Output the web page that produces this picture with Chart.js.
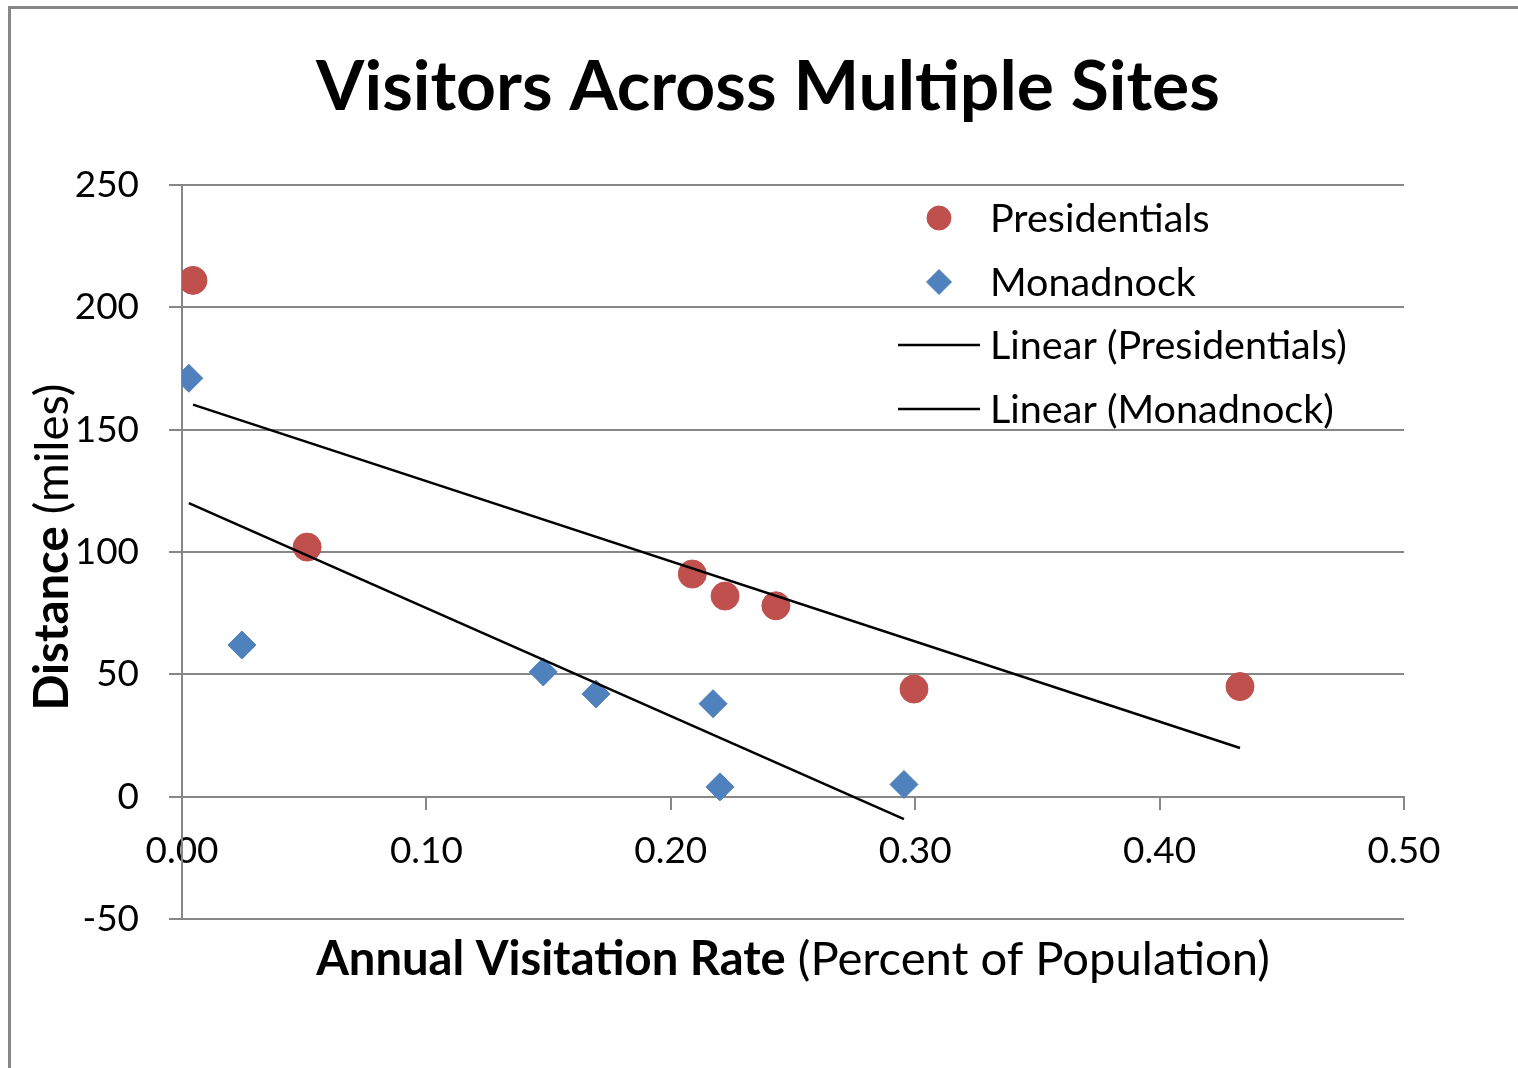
<!DOCTYPE html>
<html>
<head>
<meta charset="utf-8">
<title>Visitors Across Multiple Sites</title>
<script src="https://cdn.jsdelivr.net/npm/chart.js@4/dist/chart.umd.min.js"></script>
<style>
  html, body { margin: 0; padding: 0; background: #ffffff; }
  canvas { display: block; }
</style>
</head>
<body>
<canvas id="chart" width="1518" height="1068" style="width:1518px;height:1068px"></canvas>
<script>
// ---- chart data ----
const chartTitle = 'Visitors Across Multiple Sites';
const xTitleBold = 'Annual Visitation Rate';
const xTitleRest = ' (Percent of Population)';
const yTitleBold = 'Distance';
const yTitleRest = ' (miles)';
const seriesNames = ['Presidentials', 'Monadnock'];
const trendNames = ['Linear (Presidentials)', 'Linear (Monadnock)'];

// annual visitation rate (percent of population) and distance (miles)
const presidentialsRate  = [0.0045, 0.0512, 0.2088, 0.2222, 0.2430, 0.2995, 0.4329];
const presidentialsMiles = [211, 102, 91, 82, 78, 44, 45];
const monadnockRate      = [0.0028, 0.0245, 0.1478, 0.1694, 0.2173, 0.2201, 0.2954];
const monadnockMiles     = [171, 62, 51, 42, 38, 4, 5];

// axis ticks
const xTickValues = [0.00, 0.10, 0.20, 0.30, 0.40, 0.50];
const yTickValues = [-50, 0, 50, 100, 150, 200, 250];

// ---- styling ----
const FONT = 'Lato, "Open Sans", "DejaVu Sans", sans-serif';
const GRID = '#878787';
const RED = '#C0504D';
const BLUE = '#4F81BD';

const measureCtx = document.createElement('canvas').getContext('2d');
function textWidth(text, weight, size) {
  measureCtx.font = weight + ' ' + size + 'px ' + FONT;
  return measureCtx.measureText(text).width;
}
// font size at which the given runs of text span the wanted width
function sizeForWidth(parts, width) {
  const w = parts.reduce((s, p) => s + textWidth(p[0], p[1], 100), 0);
  return 100 * width / w;
}

const titleSize  = sizeForWidth([[chartTitle, 'bold']], 904);
const tickSize   = sizeForWidth([['0.50', 'normal']], 73);
const legendSize = sizeForWidth([[trendNames[0], 'normal']], 357);
const xTitleSize = sizeForWidth([[xTitleBold, 'bold'], [xTitleRest, 'normal']], 954);
const yTitleSize = sizeForWidth([[yTitleBold, 'bold'], [yTitleRest, 'normal']], 327);

// least-squares line across the x range of a series
function linearTrend(xs, ys) {
  const n = xs.length;
  const mx = xs.reduce((a, b) => a + b, 0) / n;
  const my = ys.reduce((a, b) => a + b, 0) / n;
  let sxy = 0, sxx = 0;
  for (let i = 0; i < n; i++) {
    sxy += (xs[i] - mx) * (ys[i] - my);
    sxx += (xs[i] - mx) * (xs[i] - mx);
  }
  const slope = sxy / sxx;
  const icpt = my - slope * mx;
  const x0 = Math.min(...xs), x1 = Math.max(...xs);
  return [{ x: x0, y: icpt + slope * x0 }, { x: x1, y: icpt + slope * x1 }];
}

function toPoints(xs, ys) { return xs.map((x, i) => ({ x: x, y: ys[i] })); }

// outer frame of the chart object and the chart title
const framePlugin = {
  id: 'frame',
  beforeDraw(chart) {
    const ctx = chart.ctx;
    ctx.save();
    ctx.fillStyle = '#ffffff';
    ctx.fillRect(0, 0, chart.width, chart.height);
    ctx.strokeStyle = GRID;
    ctx.lineWidth = 3;
    ctx.strokeRect(9.5, 7.5, chart.width + 100, chart.height + 100);
    ctx.fillStyle = '#000000';
    ctx.font = 'bold ' + titleSize + 'px ' + FONT;
    ctx.textAlign = 'center';
    ctx.textBaseline = 'middle';
    ctx.fillText(chartTitle, 768, 88);
    ctx.restore();
  }
};

// axis titles with a bold lead-in followed by regular text
function drawMixed(ctx, bold, rest, size, cx, baseline) {
  ctx.font = 'bold ' + size + 'px ' + FONT;
  const wb = ctx.measureText(bold).width;
  ctx.font = 'normal ' + size + 'px ' + FONT;
  const wr = ctx.measureText(rest).width;
  let x = cx - (wb + wr) / 2;
  ctx.textAlign = 'left';
  ctx.textBaseline = 'alphabetic';
  ctx.fillStyle = '#000000';
  ctx.font = 'bold ' + size + 'px ' + FONT;
  ctx.fillText(bold, x, baseline);
  ctx.font = 'normal ' + size + 'px ' + FONT;
  ctx.fillText(rest, x + wb, baseline);
}

const axisTitlePlugin = {
  id: 'axisTitles',
  afterDraw(chart) {
    const ctx = chart.ctx;
    const a = chart.chartArea;
    ctx.save();
    drawMixed(ctx, xTitleBold, xTitleRest, xTitleSize, (a.left + a.right) / 2, a.bottom + 56);
    ctx.translate(68, (a.top + a.bottom) / 2 - 5);
    ctx.rotate(-Math.PI / 2);
    drawMixed(ctx, yTitleBold, yTitleRest, yTitleSize, 0, 0);
    ctx.restore();
  }
};

// legend placed inside the plot area, upper right
const legendPlugin = {
  id: 'insideLegend',
  afterDatasetsDraw(chart) {
    const ctx = chart.ctx;
    const a = chart.chartArea;
    const markX = a.right - 465;
    const textX = a.right - 414;
    const rows = [a.top + 33, a.top + 97, a.top + 160, a.top + 224];
    ctx.save();
    ctx.font = 'normal ' + legendSize + 'px ' + FONT;
    ctx.textAlign = 'left';
    ctx.textBaseline = 'middle';
    chart.data.datasets.forEach((ds, i) => {
      const y = rows[i];
      if (ds.showLine) {
        ctx.strokeStyle = ds.borderColor;
        ctx.lineWidth = ds.borderWidth;
        ctx.beginPath();
        ctx.moveTo(markX - 41, y);
        ctx.lineTo(markX + 41, y);
        ctx.stroke();
      } else {
        ctx.fillStyle = ds.backgroundColor;
        ctx.strokeStyle = ds.borderColor;
        ctx.lineWidth = 1;
        ctx.beginPath();
        if (ds.pointStyle === 'circle') {
          ctx.arc(markX, y, 12, 0, Math.PI * 2);
        } else {
          ctx.moveTo(markX - 12.5, y);
          ctx.lineTo(markX, y - 12.5);
          ctx.lineTo(markX + 12.5, y);
          ctx.lineTo(markX, y + 12.5);
          ctx.closePath();
        }
        ctx.fill();
        ctx.stroke();
      }
      ctx.fillStyle = '#000000';
      ctx.fillText(ds.label, textX, y + 1);
    });
    ctx.restore();
  }
};

new Chart(document.getElementById('chart'), {
  type: 'scatter',
  data: {
    datasets: [
      {
        label: seriesNames[0],
        data: toPoints(presidentialsRate, presidentialsMiles),
        pointStyle: 'circle',
        pointRadius: 14,
        pointBorderWidth: 1,
        backgroundColor: RED,
        borderColor: RED,
        order: 2
      },
      {
        label: seriesNames[1],
        data: toPoints(monadnockRate, monadnockMiles),
        pointStyle: 'rectRot',
        pointRadius: 14,
        pointBorderWidth: 1,
        backgroundColor: BLUE,
        borderColor: BLUE,
        order: 2
      },
      {
        label: trendNames[0],
        data: linearTrend(presidentialsRate, presidentialsMiles),
        showLine: true,
        borderColor: '#000000',
        backgroundColor: '#000000',
        borderWidth: 2.5,
        pointRadius: 0,
        order: 1
      },
      {
        label: trendNames[1],
        data: linearTrend(monadnockRate, monadnockMiles),
        showLine: true,
        borderColor: '#000000',
        backgroundColor: '#000000',
        borderWidth: 2.5,
        pointRadius: 0,
        order: 1
      }
    ]
  },
  options: {
    responsive: false,
    devicePixelRatio: 1,
    animation: false,
    events: [],
    layout: { padding: { top: 185, left: 0, right: 114, bottom: 149 } },
    plugins: {
      legend: { display: false },
      tooltip: { enabled: false },
      title: { display: false }
    },
    scales: {
      x: {
        type: 'linear',
        position: { y: 0 },
        min: xTickValues[0],
        max: xTickValues[xTickValues.length - 1],
        afterBuildTicks(scale) { scale.ticks = xTickValues.map(v => ({ value: v })); },
        ticks: {
          color: '#000000',
          font: { family: FONT, size: tickSize, lineHeight: 1.2 },
          padding: 20,
          maxRotation: 0,
          autoSkip: false,
          callback: v => Number(v).toFixed(2)
        },
        grid: {
          drawOnChartArea: false,
          drawTicks: true,
          tickLength: 12,
          tickWidth: 2,
          color: GRID,
          lineWidth: 2
        },
        border: { display: true, color: GRID, width: 2 }
      },
      y: {
        type: 'linear',
        min: yTickValues[0],
        max: yTickValues[yTickValues.length - 1],
        afterBuildTicks(scale) { scale.ticks = yTickValues.map(v => ({ value: v })); },
        afterFit(scale) { scale.width = 182; },
        ticks: {
          color: '#000000',
          font: { family: FONT, size: tickSize, lineHeight: 1.2 },
          padding: 30,
          autoSkip: false,
          callback: v => String(v)
        },
        grid: {
          drawTicks: true,
          tickLength: 13,
          color: GRID,
          lineWidth: 2
        },
        border: { display: true, color: GRID, width: 2 }
      }
    }
  },
  plugins: [framePlugin, axisTitlePlugin, legendPlugin]
});
</script>
</body>
</html>
